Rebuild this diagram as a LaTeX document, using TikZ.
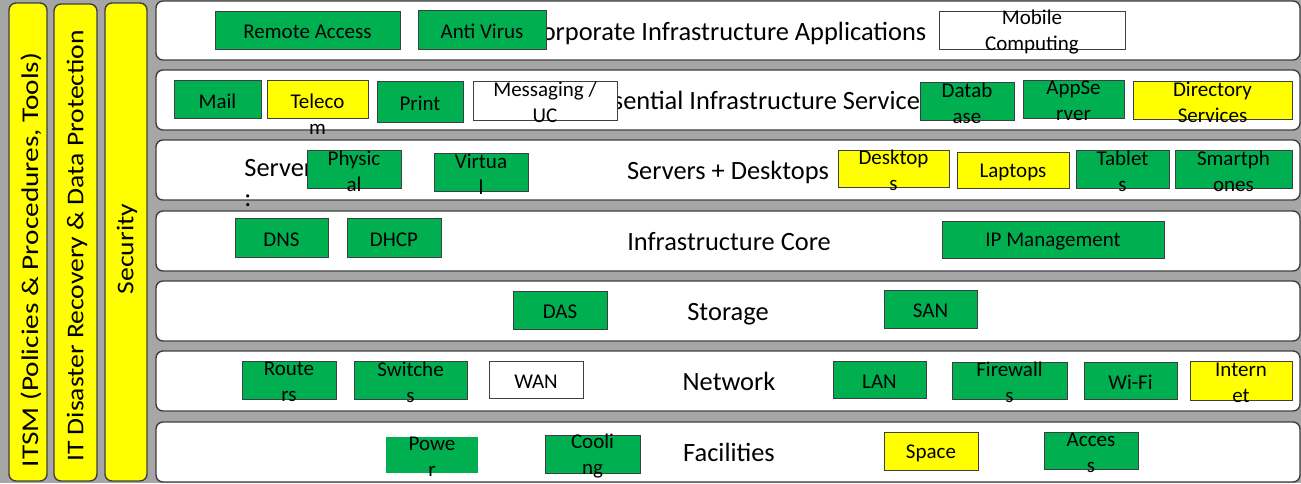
\documentclass[tikz,border=0pt]{standalone}
\usepackage{fontspec}
\setmainfont{Carlito}
\usetikzlibrary{positioning}
\usetikzlibrary{fit}

\definecolor{panelgray}{HTML}{A6A6A6}
\definecolor{itgreen}{HTML}{00B050}
\definecolor{ityellow}{HTML}{FFFF00}
\definecolor{edgegray}{HTML}{3F3F3F}

\begin{document}
\begin{tikzpicture}[x=0.5pt, y=-0.5pt,
    layer/.style={rectangle, draw=edgegray, line width=0.7pt, fill=white, rounded corners=3.5pt, inner sep=0pt},
    pillar/.style={rectangle, draw=edgegray, line width=0.7pt, fill=ityellow, rounded corners=3.5pt, inner sep=0pt},
    pillartext/.style={rotate=90, xscale=1.15, inner sep=0pt, font=\fontsize{12}{14}\selectfont},
    layertext/.style={anchor=base, inner sep=0pt, font=\fontsize{13.2}{15}\selectfont},
    tile/.style={rectangle, draw=edgegray, line width=0.5pt, inner sep=0pt},
    gtile/.style={tile, fill=itgreen},
    ytile/.style={tile, fill=ityellow},
    wtile/.style={tile, fill=white},
    tt/.style={inner sep=0pt, yshift=-1pt, align=center, font=\fontsize{10.5}{13}\selectfont}]

        % Draw the gray background
        \useasboundingbox (0,0) rectangle (1301,483);
        \fill[panelgray] (0,0) rectangle (1301,483);

        % Draw the three vertical pillars
        \node[pillar, fit={(9,3) (47,481)}] (itsm) {};
        \node[pillartext, xscale=1.06] (itsmlbl) at (31,260) {ITSM (Policies \& Procedures, Tools)};
        \node[pillar, fit={(54,4) (97,481)}] (drec) {};
        \node[pillartext] (dreclbl) at (77,246) {IT Disaster Recovery \& Data Protection};
        \node[pillar, fit={(105,3) (147,481)}] (sec) {};
        \node[pillartext] (seclbl) at (127,249) {Security};

        % Draw the seven layers
        \node[layer, fit={(156,1) (1300,60)}] (apps) {};
        \node[layer, fit={(156,70) (1300,130)}] (svcs) {};
        \node[layer, fit={(156,140) (1300,200)}] (hosts) {};
        \node[layer, fit={(156,211) (1300,271)}] (core) {};
        \node[layer, fit={(156,281) (1300,341)}] (storage) {};
        \node[layer, fit={(156,351) (1300,411)}] (network) {};
        \node[layer, fit={(156,422) (1300,482)}] (facil) {};

        % Layer titles, drawn below the tiles
        \node[layertext] (appslbl) at (727,40) {Corporate Infrastructure Applications};
        \node[layertext] (svcslbl) at (760,109.5) {Essential Infrastructure Services};
        \node[layertext] (hostslbl) at (728,179.5) {Servers + Desktops};
        \node[layertext] (corelbl) at (729,250.5) {Infrastructure Core};
        \node[layertext] (storagelbl) at (728,320.5) {Storage};
        \node[layertext] (networklbl) at (729,390.5) {Network};
        \node[layertext] (facillbl) at (729,461.5) {Facilities};
        \node[layertext, anchor=north west, align=left] (serverlbl) at (244,159) {Server\\:};

        % Corporate infrastructure applications
        \node[gtile, fit={(215,11) (400,49)}, label={[tt]center:Remote Access}] (remote) {};
        \node[gtile, fit={(418,10) (546,49)}, label={[tt]center:Anti Virus}] (antivirus) {};
        \node[wtile, fit={(939,11) (1125,49)}, label={[tt]center:Mobile\\Computing}] (mobile) {};

        % Essential infrastructure services
        \node[gtile, fit={(174,80) (261,118)}, label={[tt]center:Mail}] (mail) {};
        \node[ytile, fit={(267,80) (368,118)}, label={[tt, yshift=-6.5pt]center:Teleco\\m}] (telecom) {};
        \node[gtile, fit={(377,81) (463,122)}, label={[tt]center:Print}] (print) {};
        \node[wtile, fit={(473,81) (617,120)}, label={[tt]center:Messaging /\\UC}] (messaging) {};
        \node[gtile, fit={(920,82) (1014,120)}, label={[tt]center:Datab\\ase}] (database) {};
        \node[gtile, fit={(1023,80) (1124,118)}, label={[tt]center:AppSe\\rver}] (appserver) {};
        \node[ytile, fit={(1133,81) (1292,119)}, label={[tt]center:Directory\\Services}] (directory) {};

        % Servers + desktops
        \node[gtile, fit={(307,150) (401,188)}, label={[tt]center:Physic\\al}] (physical) {};
        \node[gtile, fit={(434,153) (528,191)}, label={[tt]center:Virtua\\l}] (virtual) {};
        \node[ytile, fit={(838,150) (949,187)}, label={[tt]center:Desktop\\s}] (desktops) {};
        \node[ytile, fit={(957,152) (1069,188)}, label={[tt]center:Laptops}] (laptops) {};
        \node[gtile, fit={(1076,150) (1169,188)}, label={[tt]center:Tablet\\s}] (tablets) {};
        \node[gtile, fit={(1175,150) (1292,188)}, label={[tt]center:Smartph\\ones}] (smartphones) {};

        % Infrastructure core
        \node[gtile, fit={(235,218) (328,257)}, label={[tt]center:DNS}] (dns) {};
        \node[gtile, fit={(347,218) (441,257)}, label={[tt]center:DHCP}] (dhcp) {};
        \node[gtile, fit={(942,221) (1164,258)}, label={[tt]center:IP Management}] (ipmgmt) {};

        % Storage
        \node[gtile, fit={(513,291) (607,329)}, label={[tt]center:DAS}] (das) {};
        \node[gtile, fit={(884,290) (977,328)}, label={[tt]center:SAN}] (san) {};

        % Network
        \node[gtile, fit={(242,361) (336,399)}, label={[tt]center:Route\\rs}] (routers) {};
        \node[gtile, fit={(354,361) (467,399)}, label={[tt]center:Switche\\s}] (switches) {};
        \node[wtile, fit={(489,361) (583,398)}, label={[tt]center:WAN}] (wan) {};
        \node[gtile, fit={(833,361) (926,398)}, label={[tt]center:LAN}] (lan) {};
        \node[gtile, fit={(952,362) (1067,399)}, label={[tt]center:Firewall\\s}] (firewalls) {};
        \node[gtile, fit={(1084,362) (1177,399)}, label={[tt]center:Wi-Fi}] (wifi) {};
        \node[ytile, fit={(1190,361) (1292,400)}, label={[tt]center:Intern\\et}] (internet) {};

        % Facilities
        \node[gtile, draw=none, fit={(386,437) (478,473)}, label={[tt]center:Powe\\r}] (power) {};
        \node[gtile, fit={(545,435) (640,473)}, label={[tt]center:Cooli\\ng}] (cooling) {};
        \node[ytile, fit={(884,432) (978,470)}, label={[tt]center:Space}] (space) {};
        \node[gtile, fit={(1044,432) (1138,469)}, label={[tt]center:Acces\\s}] (access) {};
      \end{tikzpicture}
\end{document}
